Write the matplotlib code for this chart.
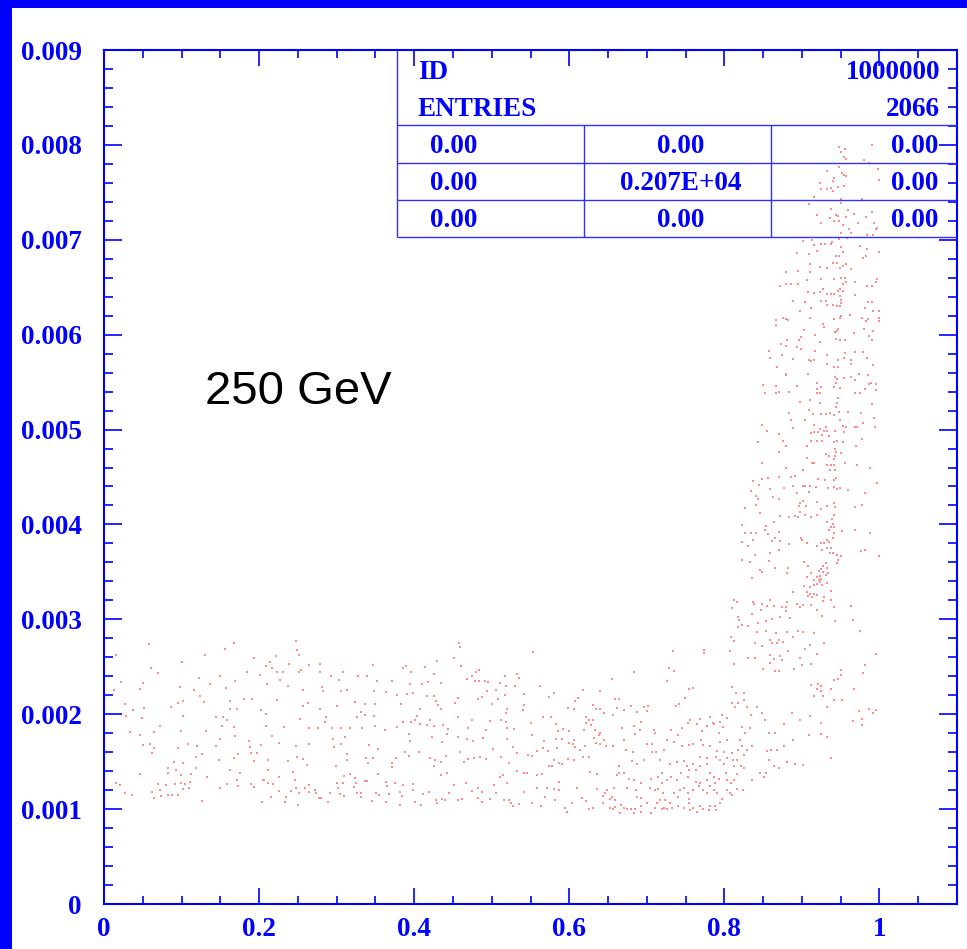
import numpy as np
import matplotlib
matplotlib.use("Agg")
import matplotlib.pyplot as plt
from matplotlib.ticker import MultipleLocator
from matplotlib.patches import Rectangle

BLUE = "#0000ff"
GRID_BLUE = "#3030ff"
DOT = "#ff8c8c"

# event positions as (x, y / 1e-3), grouped by region of the distribution
BAND_LEFT = [
    (0.058, 2.74), (0.168, 2.75), (0.156, 2.69), (0.130, 2.62), (0.016, 2.62), (0.247, 2.775), (0.249, 2.68),
    (0.252, 2.62), (0.193, 2.59), (0.222, 2.61), (0.214, 2.55), (0.209, 2.51), (0.239, 2.53), (0.264, 2.52),
    (0.279, 2.53), (0.347, 2.52), (0.061, 2.49), (0.101, 2.55), (0.069, 2.43), (0.022, 2.34), (0.050, 2.33),
    (0.046, 2.27), (0.013, 2.26), (0.098, 2.29), (0.116, 2.26), (0.123, 2.38), (0.137, 2.32), (0.149, 2.40),
    (0.169, 2.35), (0.157, 2.28), (0.184, 2.45), (0.201, 2.41), (0.210, 2.32), (0.217, 2.49), (0.223, 2.44),
    (0.231, 2.44), (0.227, 2.36), (0.251, 2.44), (0.254, 2.47), (0.237, 2.30), (0.257, 2.26), (0.279, 2.45),
    (0.293, 2.40), (0.303, 2.36), (0.308, 2.45), (0.327, 2.40), (0.339, 2.40), (0.352, 2.35), (0.281, 2.29),
    (0.283, 2.24), (0.306, 2.24), (0.314, 2.26), (0.348, 2.25), (0.027, 2.11), (0.037, 2.04), (0.051, 2.07),
    (0.028, 1.98), (0.049, 1.96), (0.087, 2.08), (0.096, 2.12), (0.102, 2.14), (0.102, 1.98), (0.124, 2.19),
    (0.129, 2.13), (0.162, 2.14), (0.163, 2.05), (0.171, 2.06), (0.181, 2.16), (0.191, 2.16), (0.202, 2.04),
    (0.209, 2.00), (0.223, 2.15), (0.256, 2.09), (0.263, 2.12), (0.279, 2.05), (0.301, 2.09), (0.324, 2.13),
    (0.332, 2.02), (0.336, 2.11), (0.349, 2.11), (0.326, 1.97), (0.337, 1.995), (0.348, 1.98), (0.144, 1.97),
    (0.154, 1.97), (0.159, 1.94), (0.152, 1.88), (0.167, 1.87), (0.169, 1.77), (0.209, 1.88), (0.232, 1.87),
    (0.253, 1.95), (0.265, 1.86), (0.276, 1.85), (0.286, 1.97), (0.285, 1.92), (0.294, 1.86), (0.305, 1.86),
    (0.317, 1.855), (0.333, 1.86), (0.350, 1.88), (0.034, 1.81), (0.047, 1.78), (0.065, 1.81), (0.072, 1.88),
    (0.099, 1.82), (0.131, 1.82), (0.149, 1.74), (0.187, 1.72), (0.203, 1.68), (0.217, 1.77), (0.226, 1.70),
    (0.248, 1.67), (0.264, 1.69), (0.297, 1.65), (0.295, 1.74), (0.305, 1.69), (0.311, 1.76), (0.342, 1.68),
    (0.353, 1.63), (0.050, 1.68), (0.059, 1.69), (0.064, 1.64), (0.062, 1.59), (0.096, 1.64), (0.108, 1.69),
    (0.120, 1.66), (0.144, 1.67), (0.126, 1.58), (0.118, 1.55), (0.148, 1.52), (0.167, 1.54), (0.173, 1.58),
    (0.188, 1.65), (0.190, 1.59), (0.197, 1.59), (0.194, 1.51), (0.212, 1.52), (0.237, 1.51), (0.249, 1.55),
    (0.257, 1.525), (0.262, 1.46), (0.314, 1.52), (0.313, 1.58), (0.338, 1.54), (0.347, 1.54), (0.341, 1.49),
    (0.083, 1.43), (0.090, 1.50), (0.102, 1.49), (0.093, 1.41), (0.082, 1.38), (0.047, 1.37), (0.099, 1.36),
    (0.112, 1.37), (0.118, 1.43), (0.133, 1.34), (0.163, 1.41), (0.176, 1.38), (0.171, 1.31), (0.206, 1.31),
    (0.212, 1.41), (0.226, 1.34), (0.244, 1.39), (0.246, 1.31), (0.299, 1.45), (0.310, 1.35), (0.317, 1.37),
    (0.324, 1.33), (0.339, 1.30), (0.353, 1.37), (0.016, 1.28), (0.021, 1.25), (0.027, 1.17), (0.036, 1.15),
    (0.062, 1.18), (0.065, 1.12), (0.069, 1.26), (0.072, 1.20), (0.074, 1.14), (0.080, 1.25), (0.083, 1.15),
    (0.088, 1.15), (0.092, 1.26), (0.095, 1.15), (0.099, 1.28), (0.104, 1.26), (0.109, 1.22), (0.111, 1.29),
    (0.102, 1.21), (0.126, 1.09), (0.149, 1.22), (0.158, 1.26), (0.173, 1.24), (0.190, 1.26), (0.194, 1.23),
    (0.205, 1.31), (0.212, 1.27), (0.218, 1.26), (0.216, 1.13), (0.226, 1.19), (0.235, 1.13), (0.241, 1.19),
    (0.247, 1.22), (0.251, 1.17), (0.250, 1.04), (0.259, 1.22), (0.265, 1.25), (0.265, 1.18), (0.272, 1.20),
    (0.274, 1.17), (0.277, 1.12), (0.280, 1.12), (0.289, 1.08), (0.292, 1.17), (0.301, 1.27), (0.302, 1.22),
    (0.304, 1.16), (0.308, 1.27), (0.310, 1.14), (0.322, 1.23), (0.325, 1.27), (0.326, 1.17), (0.331, 1.17),
    (0.331, 1.13), (0.337, 1.30), (0.346, 1.09), (0.351, 1.17), (0.355, 1.15), (0.204, 1.07), (0.234, 1.07),
]

BAND_RIGHT = [
    (0.458, 2.75), (0.459, 2.71), (0.451, 2.59), (0.429, 2.56), (0.461, 2.51), (0.414, 2.50), (0.390, 2.51),
    (0.385, 2.49), (0.396, 2.44), (0.425, 2.42), (0.372, 2.35), (0.394, 2.32), (0.410, 2.32), (0.418, 2.34),
    (0.435, 2.33), (0.468, 2.37), (0.474, 2.40), (0.478, 2.35), (0.484, 2.35), (0.491, 2.35), (0.495, 2.34),
    (0.484, 2.47), (0.480, 2.44), (0.506, 2.26), (0.511, 2.33), (0.518, 2.30), (0.530, 2.30), (0.532, 2.42),
    (0.535, 2.38), (0.517, 2.40), (0.553, 2.66), (0.562, 2.30), (0.364, 2.23), (0.378, 2.20), (0.391, 2.21),
    (0.399, 2.22), (0.416, 2.19), (0.425, 2.19), (0.428, 2.14), (0.431, 2.10), (0.434, 2.06), (0.408, 2.06),
    (0.383, 2.11), (0.456, 2.17), (0.453, 2.12), (0.482, 2.16), (0.487, 2.18), (0.494, 2.24), (0.500, 2.11),
    (0.508, 2.16), (0.517, 2.20), (0.520, 2.06), (0.542, 2.21), (0.542, 2.10), (0.540, 2.04), (0.574, 2.18),
    (0.580, 2.22), (0.608, 2.14), (0.611, 2.17), (0.618, 2.26), (0.598, 2.07), (0.606, 2.05), (0.631, 2.10),
    (0.635, 2.05), (0.639, 2.06),
    (0.403, 1.98), (0.401, 1.94), (0.396, 1.915), (0.386, 1.92), (0.378, 1.87), (0.363, 1.83), (0.393, 1.79),
    (0.408, 1.90), (0.421, 1.94), (0.416, 1.89), (0.426, 1.88), (0.437, 1.89), (0.444, 1.84), (0.442, 1.79),
    (0.456, 1.97), (0.475, 1.94), (0.469, 1.85), (0.492, 1.83), (0.498, 1.93), (0.512, 1.94), (0.519, 1.92),
    (0.520, 1.86), (0.529, 1.84), (0.518, 2.01), (0.551, 1.91), (0.552, 1.78), (0.566, 1.97), (0.576, 1.97),
    (0.585, 1.82), (0.592, 1.84), (0.600, 1.82), (0.583, 1.90), (0.606, 1.73), (0.619, 1.83), (0.621, 1.97),
    (0.626, 1.94), (0.631, 1.94), (0.621, 1.91), (0.628, 1.89), (0.633, 1.83), (0.638, 1.78),
    (0.394, 1.72), (0.423, 1.76), (0.436, 1.71), (0.456, 1.76), (0.468, 1.74), (0.476, 1.72), (0.489, 1.75),
    (0.501, 1.63), (0.520, 1.74), (0.527, 1.65), (0.533, 1.59), (0.547, 1.57), (0.552, 1.56), (0.558, 1.61),
    (0.566, 1.64), (0.567, 1.72), (0.573, 1.61), (0.583, 1.74), (0.584, 1.64), (0.591, 1.74), (0.600, 1.70),
    (0.605, 1.69), (0.607, 1.65), (0.620, 1.67), (0.614, 1.62), (0.626, 1.55), (0.632, 1.75), (0.635, 1.70),
    (0.639, 1.69),
    (0.388, 1.60), (0.376, 1.54), (0.372, 1.49), (0.372, 1.44), (0.393, 1.56), (0.406, 1.60), (0.420, 1.54),
    (0.427, 1.52), (0.425, 1.45), (0.434, 1.50), (0.441, 1.56), (0.435, 1.36), (0.442, 1.38), (0.459, 1.60),
    (0.464, 1.50), (0.470, 1.53), (0.477, 1.54), (0.485, 1.55), (0.493, 1.53), (0.512, 1.55), (0.511, 1.34),
    (0.522, 1.49), (0.515, 1.36), (0.532, 1.40), (0.541, 1.38), (0.545, 1.38), (0.558, 1.36), (0.565, 1.37),
    (0.574, 1.45), (0.578, 1.45), (0.580, 1.52), (0.587, 1.49), (0.590, 1.48), (0.598, 1.53), (0.606, 1.52),
    (0.618, 1.55), (0.627, 1.39), (0.636, 1.37),
    (0.364, 1.29), (0.365, 1.24), (0.375, 1.27), (0.386, 1.25), (0.368, 1.16), (0.382, 1.18), (0.384, 1.14),
    (0.399, 1.26), (0.398, 1.20), (0.412, 1.16), (0.419, 1.18), (0.428, 1.10), (0.436, 1.11), (0.440, 1.10),
    (0.445, 1.17), (0.451, 1.25), (0.456, 1.10), (0.462, 1.11), (0.467, 1.28), (0.475, 1.19), (0.482, 1.22),
    (0.482, 1.12), (0.487, 1.18), (0.488, 1.08), (0.498, 1.11), (0.503, 1.25), (0.505, 1.17), (0.516, 1.10),
    (0.522, 1.10), (0.520, 1.28), (0.525, 1.06), (0.528, 1.03), (0.535, 1.05), (0.542, 1.18), (0.552, 1.06),
    (0.558, 1.22), (0.564, 1.03), (0.569, 1.13), (0.571, 1.22), (0.580, 1.21), (0.582, 1.10), (0.587, 1.29),
    (0.587, 1.20), (0.595, 1.01), (0.597, 0.97), (0.603, 1.06), (0.610, 1.22), (0.616, 1.12), (0.622, 1.09),
    (0.626, 1.00), (0.630, 1.01), (0.636, 1.21), (0.364, 1.08), (0.382, 1.04), (0.401, 1.08), (0.409, 1.04),
    (0.430, 1.06),
]

KNEE = [
    (0.924, 3.43), (0.922, 3.41), (0.915, 3.41), (0.919, 3.37), (0.923, 3.39), (0.926, 3.36), (0.932, 3.38),
    (0.915, 3.36), (0.911, 3.34), (0.907, 3.29), (0.910, 3.27), (0.915, 3.27), (0.919, 3.26), (0.913, 3.24),
    (0.908, 3.25), (0.903, 3.35), (0.937, 3.30), (0.929, 3.24), (0.927, 3.19), (0.937, 3.20), (0.888, 3.29),
    (0.901, 3.15), (0.912, 3.15), (0.894, 3.16), (0.881, 3.18), (0.879, 3.13), (0.874, 3.13), (0.864, 3.14),
    (0.859, 3.20), (0.855, 3.14), (0.848, 3.16), (0.838, 3.16), (0.847, 3.10), (0.843, 2.96), (0.854, 2.98),
    (0.862, 3.00), (0.872, 3.02), (0.880, 3.09), (0.884, 3.01), (0.898, 3.13), (0.920, 3.10), (0.941, 3.13),
    (0.943, 2.98), (0.926, 3.04), (0.963, 3.14), (0.966, 2.99), (0.975, 2.88), (0.995, 2.63), (0.982, 2.52),
    (0.979, 2.43), (0.967, 2.27), (0.950, 2.47), (0.946, 2.37), (0.951, 2.41), (0.941, 2.36), (0.937, 2.27),
    (0.924, 2.24), (0.927, 2.19), (0.941, 2.15), (0.932, 2.08), (0.952, 2.15), (0.925, 2.30), (0.921, 2.32),
    (0.912, 2.31), (0.920, 2.27), (0.915, 2.19),
    (0.813, 3.20), (0.816, 3.18), (0.810, 3.12), (0.837, 3.18), (0.835, 3.06), (0.818, 3.02), (0.819, 2.99),
    (0.817, 2.92), (0.823, 2.94), (0.830, 2.93), (0.842, 2.87), (0.854, 2.88), (0.867, 2.86), (0.881, 2.87),
    (0.895, 2.88), (0.902, 2.87), (0.889, 2.81), (0.915, 2.86), (0.904, 2.69), (0.910, 2.73), (0.928, 2.75),
    (0.920, 2.63), (0.868, 2.75), (0.859, 2.78), (0.861, 2.75), (0.876, 2.76), (0.870, 2.78), (0.840, 2.75),
    (0.849, 2.72), (0.808, 2.81), (0.812, 2.77), (0.807, 2.67), (0.830, 2.59), (0.840, 2.59), (0.859, 2.62),
    (0.872, 2.61), (0.874, 2.57), (0.864, 2.58), (0.865, 2.46), (0.871, 2.46), (0.850, 2.48), (0.859, 2.54),
    (0.882, 2.67), (0.898, 2.59), (0.912, 2.53), (0.890, 2.48), (0.900, 2.52), (0.813, 2.53), (0.774, 2.68),
    (0.774, 2.64), (0.734, 2.67), (0.729, 2.49), (0.735, 2.46), (0.684, 2.45), (0.655, 2.37), (0.726, 2.35),
    (0.760, 2.28), (0.755, 2.27), (0.749, 2.17), (0.742, 2.11), (0.737, 2.09), (0.702, 2.09), (0.696, 2.08),
    (0.679, 2.09), (0.671, 2.04), (0.659, 2.16), (0.664, 2.16), (0.640, 2.25), (0.656, 1.99), (0.645, 2.01),
    (0.662, 2.07), (0.640, 1.80), (0.645, 1.73), (0.648, 1.66), (0.657, 1.67), (0.668, 1.86), (0.671, 1.73),
    (0.673, 1.62), (0.682, 1.60), (0.684, 1.88), (0.685, 1.79), (0.691, 1.83), (0.692, 1.92), (0.700, 2.03),
    (0.687, 2.02), (0.709, 1.83), (0.711, 1.80), (0.707, 1.69), (0.700, 1.69), (0.696, 1.52), (0.707, 1.60),
    (0.712, 1.60), (0.717, 1.52), (0.720, 1.38), (0.714, 1.34), (0.720, 1.27), (0.715, 1.21), (0.721, 1.17),
    (0.711, 1.20), (0.704, 1.22), (0.705, 1.32), (0.692, 1.27), (0.683, 1.31), (0.687, 1.48), (0.681, 1.51),
    (0.677, 1.32), (0.670, 1.38), (0.664, 1.45), (0.664, 1.38), (0.661, 1.36), (0.658, 1.22), (0.649, 1.20),
    (0.646, 1.17), (0.643, 1.14), (0.653, 1.11), (0.659, 1.10), (0.655, 1.13), (0.652, 1.01), (0.659, 1.02),
    (0.667, 1.04), (0.674, 1.00), (0.680, 1.00), (0.685, 1.00), (0.692, 1.03), (0.687, 1.13), (0.692, 1.12),
    (0.686, 1.20), (0.674, 1.22), (0.705, 0.96), (0.711, 1.01), (0.717, 1.10), (0.722, 1.01), (0.724, 1.10),
    (0.726, 1.00), (0.730, 1.06), (0.735, 1.17), (0.740, 1.13), (0.743, 1.20), (0.748, 1.22), (0.753, 1.17),
    (0.755, 1.11), (0.760, 1.20), (0.767, 1.24), (0.773, 1.20), (0.778, 1.17), (0.782, 1.24), (0.786, 1.20),
    (0.791, 1.17), (0.797, 1.11), (0.803, 1.20), (0.807, 1.17), (0.810, 1.15), (0.816, 1.21), (0.824, 1.20),
    (0.836, 1.31), (0.812, 1.31), (0.816, 1.37), (0.825, 1.43), (0.821, 1.45), (0.812, 1.45), (0.802, 1.38),
    (0.793, 1.32), (0.786, 1.34), (0.782, 1.38), (0.777, 1.48), (0.768, 1.45), (0.763, 1.41), (0.754, 1.41),
    (0.753, 1.34), (0.744, 1.38), (0.739, 1.31), (0.731, 1.34), (0.726, 1.31), (0.730, 1.48), (0.739, 1.50),
    (0.748, 1.51), (0.752, 1.45), (0.759, 1.48), (0.769, 1.55), (0.778, 1.54), (0.789, 1.55), (0.795, 1.52),
    (0.799, 1.48), (0.803, 1.54), (0.811, 1.52), (0.816, 1.52), (0.825, 1.57), (0.836, 1.66), (0.829, 1.62),
    (0.817, 1.62), (0.810, 1.59), (0.799, 1.60), (0.791, 1.61), (0.782, 1.66), (0.773, 1.68), (0.770, 1.73),
    (0.760, 1.69), (0.754, 1.68), (0.745, 1.67), (0.735, 1.71), (0.731, 1.83), (0.726, 1.73), (0.722, 1.62),
    (0.740, 1.78), (0.745, 1.85), (0.753, 1.91), (0.756, 1.94), (0.765, 1.90), (0.771, 1.82), (0.778, 1.88),
    (0.786, 1.90), (0.793, 1.80), (0.798, 1.87), (0.803, 1.96), (0.797, 1.99), (0.810, 2.12), (0.814, 2.08),
    (0.818, 2.12), (0.815, 2.22), (0.810, 2.29), (0.825, 2.22), (0.825, 2.15), (0.829, 2.08), (0.834, 1.99),
    (0.842, 2.08), (0.849, 2.01), (0.853, 1.94), (0.857, 1.80), (0.865, 1.80), (0.877, 1.90), (0.887, 2.01),
    (0.898, 1.94), (0.911, 1.98), (0.924, 1.91), (0.932, 1.76), (0.937, 1.54), (0.924, 1.79), (0.909, 1.78),
    (0.889, 1.73), (0.877, 1.66), (0.868, 1.62), (0.860, 1.62), (0.855, 1.61), (0.857, 1.52), (0.851, 1.34),
    (0.846, 1.38), (0.854, 1.38), (0.864, 1.45), (0.871, 1.43), (0.881, 1.50), (0.891, 1.48), (0.902, 1.47),
    (0.782, 1.97), (0.785, 1.91), (0.795, 1.92), (0.769, 1.95), (0.823, 1.87), (0.826, 1.80), (0.833, 1.85),
    (0.823, 1.66), (0.820, 1.73), (0.803, 1.73), (0.795, 1.71), (0.803, 1.31), (0.809, 1.28), (0.788, 1.27),
    (0.778, 1.31), (0.769, 1.27), (0.763, 1.29), (0.755, 1.06), (0.760, 1.01), (0.769, 1.03), (0.773, 1.00),
    (0.782, 1.03), (0.788, 1.03), (0.795, 1.06), (0.789, 0.99), (0.780, 0.99), (0.765, 0.97), (0.756, 0.99),
    (0.748, 1.01), (0.740, 1.03), (0.732, 1.01), (0.720, 1.00), (0.713, 1.06), (0.700, 1.06), (0.692, 0.97),
    (0.683, 0.96), (0.670, 1.01), (0.657, 1.00), (0.666, 0.96), (0.643, 1.06),
    (0.987, 2.06), (0.992, 2.01), (0.996, 2.04), (0.973, 2.03), (0.977, 1.95), (0.966, 1.93), (0.978, 1.89),
]

COLUMN = [
    (0.953, 6.87), (0.948, 6.83), (0.944, 6.83), (0.940, 6.76), (0.945, 6.76), (0.957, 6.75), (0.953, 6.72),
    (0.949, 6.70), (0.932, 6.70), (0.923, 6.71), (0.894, 6.86), (0.909, 6.85), (0.920, 6.88), (0.979, 6.81),
    (0.983, 6.83), (0.999, 6.87), (0.911, 6.74),
    (0.879, 6.66), (0.895, 6.67), (0.910, 6.66), (0.907, 6.58), (0.925, 6.59), (0.941, 6.59), (0.951, 6.60),
    (0.956, 6.60), (0.957, 6.55), (0.953, 6.53), (0.963, 6.69), (0.968, 6.55), (0.984, 6.51), (0.990, 6.51),
    (0.995, 6.56), (0.997, 6.59), (0.872, 6.51), (0.880, 6.53), (0.886, 6.53), (0.895, 6.53),
    (0.908, 6.45), (0.916, 6.44), (0.923, 6.45), (0.927, 6.48), (0.932, 6.43), (0.937, 6.43), (0.941, 6.43),
    (0.946, 6.46), (0.949, 6.48), (0.953, 6.46), (0.969, 6.42), (0.949, 6.41), (0.950, 6.37), (0.951, 6.33),
    (0.949, 6.30), (0.945, 6.30), (0.940, 6.31), (0.933, 6.31), (0.931, 6.35), (0.924, 6.35), (0.912, 6.28),
    (0.904, 6.34), (0.889, 6.35), (0.898, 6.25), (0.981, 6.28), (0.985, 6.34), (0.991, 6.34), (0.992, 6.25),
    (0.999, 6.25), (0.999, 6.18), (0.999, 6.14), (0.992, 6.04), (0.985, 6.17), (0.977, 6.18), (0.980, 6.06),
    (0.983, 6.14), (0.962, 6.21), (0.951, 6.20), (0.949, 6.18), (0.941, 6.17), (0.927, 6.11), (0.911, 6.18),
    (0.876, 6.18), (0.879, 6.17), (0.882, 6.15), (0.866, 6.15), (0.867, 6.10), (0.903, 6.05), (0.943, 6.03),
    (0.945, 6.04), (0.947, 6.06), (0.928, 6.08),
    (0.899, 5.98), (0.917, 6.00), (0.923, 5.92), (0.917, 5.83), (0.896, 5.94), (0.881, 5.94), (0.873, 5.90),
    (0.879, 5.88), (0.894, 5.87), (0.899, 5.85), (0.933, 5.79), (0.944, 5.95), (0.949, 5.94), (0.955, 5.94),
    (0.967, 6.02), (0.986, 5.99), (0.990, 5.94), (0.968, 5.82), (0.979, 5.82), (0.955, 5.81), (0.858, 5.83),
    (0.859, 5.75), (0.874, 5.79), (0.889, 5.74), (0.909, 5.73), (0.912, 5.72), (0.915, 5.73), (0.932, 5.69),
    (0.946, 5.73), (0.942, 5.66), (0.946, 5.66), (0.954, 5.75), (0.963, 5.73), (0.963, 5.69), (0.984, 5.75),
    (0.992, 5.68), (0.868, 5.66), (0.880, 5.59), (0.879, 5.58), (0.908, 5.59), (0.945, 5.53), (0.943, 5.55),
    (0.954, 5.54), (0.963, 5.55), (0.969, 5.52), (0.974, 5.59), (0.985, 5.57), (0.987, 5.48), (0.995, 5.48),
    (0.989, 5.49), (0.944, 5.49), (0.941, 5.45), (0.949, 5.44), (0.924, 5.45), (0.920, 5.49), (0.919, 5.43),
    (0.894, 5.46), (0.883, 5.40), (0.850, 5.47), (0.866, 5.46), (0.853, 5.39), (0.866, 5.39), (0.870, 5.40),
    (0.923, 5.38), (0.920, 5.39), (0.969, 5.38), (0.975, 5.38), (0.982, 5.43), (0.995, 5.42),
    (0.898, 5.29), (0.910, 5.31), (0.923, 5.28), (0.946, 5.33), (0.945, 5.28), (0.944, 5.24), (0.909, 5.21),
    (0.914, 5.16), (0.924, 5.16), (0.931, 5.16), (0.936, 5.17), (0.942, 5.15), (0.948, 5.18), (0.960, 5.18),
    (0.976, 5.17), (0.990, 5.27), (0.883, 5.17), (0.886, 5.10), (0.888, 5.02), (0.904, 5.10), (0.916, 5.05),
    (0.923, 5.01), (0.931, 5.03), (0.933, 4.98), (0.943, 4.99), (0.949, 5.10), (0.953, 5.04), (0.971, 5.03),
    (0.979, 5.07), (0.994, 5.03), (0.993, 5.12), (0.848, 5.05), (0.855, 4.98), (0.870, 4.95), (0.875, 4.88),
    (0.879, 4.83), (0.912, 4.96), (0.915, 4.97), (0.921, 4.97), (0.929, 4.98), (0.926, 4.94), (0.912, 4.88),
    (0.906, 4.83), (0.920, 4.88), (0.926, 4.88), (0.935, 4.93), (0.942, 4.87), (0.945, 4.88), (0.953, 4.87),
    (0.954, 4.97), (0.957, 5.03), (0.969, 5.03), (0.978, 4.90), (0.943, 4.80), (0.944, 4.76), (0.943, 4.72),
    (0.941, 4.69), (0.931, 4.74), (0.935, 4.72), (0.951, 4.75), (0.970, 4.83),
    (0.843, 4.87), (0.848, 4.65), (0.870, 4.76), (0.879, 4.60), (0.907, 4.70), (0.913, 4.65), (0.915, 4.65),
    (0.932, 4.63), (0.936, 4.57), (0.942, 4.63), (0.938, 4.63), (0.943, 4.57), (0.955, 4.65), (0.971, 4.63),
    (0.988, 4.59), (0.901, 4.57), (0.891, 4.51), (0.886, 4.50), (0.871, 4.50), (0.856, 4.49), (0.849, 4.48),
    (0.837, 4.46), (0.845, 4.42), (0.834, 4.35), (0.841, 4.30), (0.843, 4.27), (0.841, 4.20), (0.827, 4.17),
    (0.846, 4.12), (0.859, 4.37), (0.863, 4.29), (0.871, 4.27), (0.877, 4.38), (0.889, 4.41), (0.894, 4.33),
    (0.902, 4.41), (0.904, 4.40), (0.911, 4.41), (0.909, 4.34), (0.918, 4.39), (0.921, 4.48), (0.930, 4.47),
    (0.934, 4.38), (0.941, 4.47), (0.944, 4.49), (0.942, 4.39), (0.945, 4.37), (0.949, 4.38), (0.959, 4.36),
    (0.981, 4.33), (0.997, 4.44), (0.978, 4.20), (0.969, 4.18), (0.941, 4.23), (0.943, 4.18), (0.933, 4.19),
    (0.920, 4.24), (0.924, 4.16), (0.902, 4.25), (0.905, 4.19), (0.897, 4.23), (0.896, 4.19), (0.898, 4.13),
    (0.895, 4.08), (0.883, 4.08), (0.891, 4.09), (0.904, 4.10), (0.912, 4.08), (0.920, 4.10), (0.932, 4.03),
    (0.939, 4.06), (0.942, 4.10), (0.940, 4.00), (0.937, 3.97), (0.942, 3.97), (0.935, 3.94), (0.942, 3.91),
    (0.940, 3.86), (0.932, 3.84), (0.935, 3.81), (0.937, 3.75), (0.932, 3.75), (0.929, 3.80), (0.936, 3.70),
    (0.940, 3.70), (0.945, 3.68), (0.950, 3.67), (0.952, 3.93), (0.968, 3.94), (0.976, 3.72), (0.981, 3.73),
    (0.988, 3.91), (1.000, 3.67), (0.872, 4.09), (0.854, 3.98), (0.841, 3.91), (0.827, 3.91), (0.823, 3.99),
    (0.823, 3.81), (0.834, 3.91), (0.837, 3.84), (0.852, 3.94), (0.864, 4.03), (0.856, 3.90), (0.865, 3.86),
    (0.871, 3.92), (0.872, 3.83), (0.871, 3.73), (0.861, 3.83), (0.883, 3.79), (0.899, 3.86), (0.900, 3.84),
    (0.907, 3.80), (0.920, 3.77), (0.924, 3.80), (0.926, 3.73), (0.840, 3.68), (0.831, 3.77), (0.859, 3.70),
    (0.823, 3.63), (0.833, 3.60), (0.846, 3.52), (0.858, 3.62), (0.865, 3.54), (0.882, 3.54), (0.903, 3.60),
    (0.908, 3.56), (0.906, 3.45), (0.912, 3.49), (0.920, 3.45), (0.922, 3.51), (0.925, 3.53), (0.927, 3.56),
    (0.931, 3.59), (0.932, 3.54), (0.934, 3.49), (0.927, 3.50), (0.931, 3.47), (0.923, 3.46), (0.945, 3.59),
    (0.946, 3.63), (0.881, 3.49), (0.836, 3.44), (0.848, 3.50),
]

COLUMN_TOP = [
    (0.948, 7.974), (0.950, 7.927), (0.955, 7.952), (0.957, 7.850), (0.954, 7.868), (0.980, 7.840),
    (0.991, 7.995), (0.986, 7.808), (0.998, 7.748), (1.000, 7.629), (0.933, 7.724), (0.948, 7.763),
    (0.952, 7.699), (0.954, 7.682), (0.957, 7.674), (0.941, 7.653), (0.940, 7.622), (0.923, 7.600),
    (0.924, 7.531), (0.932, 7.531), (0.940, 7.516), (0.947, 7.559), (0.954, 7.569), (0.937, 7.541),
    (0.951, 7.426), (0.951, 7.390), (0.978, 7.426), (0.916, 7.447), (0.909, 7.380), (0.938, 7.326),
    (0.959, 7.313), (0.947, 7.250), (0.944, 7.256), (0.936, 7.225), (0.948, 7.200), (0.953, 7.151),
    (0.957, 7.243), (0.967, 7.271), (0.972, 7.172), (0.920, 7.260), (0.925, 7.179), (0.942, 7.197),
    (0.961, 7.109), (0.983, 7.243), (0.990, 7.292), (0.993, 7.172), (0.995, 7.116), (0.997, 7.126),
    (0.992, 7.049), (0.984, 7.049), (0.950, 7.074), (0.948, 7.011), (0.963, 7.067), (0.901, 6.990),
    (0.913, 6.997), (0.924, 6.955), (0.930, 6.955), (0.937, 6.955), (0.950, 6.927), (0.958, 7.014),
    (0.975, 6.937), (0.984, 6.903), (0.916, 6.941), (0.939, 6.979),
]

X_TICKS = [0.0, 0.2, 0.4, 0.6, 0.8, 1.0]
X_LABELS = ["0", "0.2", "0.4", "0.6", "0.8", "1"]
Y_TICKS = [0.0, 0.001, 0.002, 0.003, 0.004, 0.005, 0.006, 0.007, 0.008, 0.009]
Y_LABELS = ["0", "0.001", "0.002", "0.003", "0.004", "0.005", "0.006", "0.007", "0.008", "0.009"]

HIST_ID = "1000000"
ENTRIES = "2066"
STAT_ROWS = [
    ["0.00", "0.00", "0.00"],
    ["0.00", "0.207E+04", "0.00"],
    ["0.00", "0.00", "0.00"],
]
ENERGY_LABEL = "250 GeV"

plt.rcParams["font.family"] = ["Liberation Serif", "DejaVu Serif"]
plt.rcParams["font.weight"] = "bold"

W, H = 967, 949
fig = plt.figure(figsize=(W / 100, H / 100), dpi=100, facecolor="white")

# blue frame strips on top and left
fig.add_artist(Rectangle((0, 1 - 8 / H), 1, 8 / H, transform=fig.transFigure, color=BLUE, lw=0))
fig.add_artist(Rectangle((0, 0), 12 / W, 1, transform=fig.transFigure, color=BLUE, lw=0))

ax = fig.add_axes([104 / W, 45 / H, 853 / W, 854 / H])
ax.set_xlim(0, 1.1)
ax.set_ylim(0, 0.009)

pts = np.array(BAND_LEFT + BAND_RIGHT + KNEE + COLUMN + COLUMN_TOP)
ax.plot(pts[:, 0], pts[:, 1] * 1e-3, ls="none", marker="s", ms=1.5, mew=0, color=DOT, zorder=2)

for side in ax.spines.values():
    side.set_color(BLUE)
    side.set_linewidth(1.5)

ax.set_xticks(X_TICKS)
ax.set_xticklabels(X_LABELS)
ax.set_yticks(Y_TICKS)
ax.set_yticklabels(Y_LABELS)
ax.xaxis.set_minor_locator(MultipleLocator(0.05))
ax.yaxis.set_minor_locator(MultipleLocator(0.0002))
ax.tick_params(which="both", direction="in", top=True, right=True, color=BLUE, width=1.2,
               labelcolor=BLUE, labelsize=19.5)
ax.tick_params(axis="y", which="major", length=13, pad=16)
ax.tick_params(axis="y", which="minor", length=6.3)
ax.tick_params(axis="x", which="major", length=11.5, pad=9)
ax.tick_params(axis="x", which="minor", length=5.5)

# statistics box in the upper right corner
bx0, bx1, bx2 = 0.3435, 0.5627, 0.7820
rows_y = [0.7810, 0.8244, 0.8677, 0.9122]
ax.vlines(bx0, rows_y[0], 1.0, transform=ax.transAxes, color=GRID_BLUE, lw=1.0, zorder=3)
ax.vlines([bx1, bx2], rows_y[0], rows_y[-1], transform=ax.transAxes, color=GRID_BLUE, lw=1.0, zorder=3)
ax.hlines(rows_y, bx0, 1.0, transform=ax.transAxes, color=GRID_BLUE, lw=1.0, zorder=3)

txt = dict(transform=ax.transAxes, color=BLUE, fontsize=19.5, fontweight="bold", va="baseline", zorder=4)
ax.text(0.368, 0.9660, "ID", ha="left", **txt)
ax.text(0.980, 0.9660, HIST_ID, ha="right", **txt)
ax.text(0.368, 0.9227, "ENTRIES", ha="left", **txt)
ax.text(0.980, 0.9227, ENTRIES, ha="right", **txt)
for row, base in zip(STAT_ROWS, [0.8794, 0.8361, 0.7927]):
    ax.text(0.3822, base, row[0], ha="left", **txt)
    ax.text(0.6764, base, row[1], ha="center", **txt)
    ax.text(0.978, base, row[2], ha="right", **txt)

ax.text(0.1184, 0.5855, ENERGY_LABEL, transform=ax.transAxes, ha="left", va="baseline",
        fontsize=34, fontweight="normal", family=["Liberation Sans", "DejaVu Sans"], color="black")

fig.savefig("out.png", dpi=100, facecolor="white")
